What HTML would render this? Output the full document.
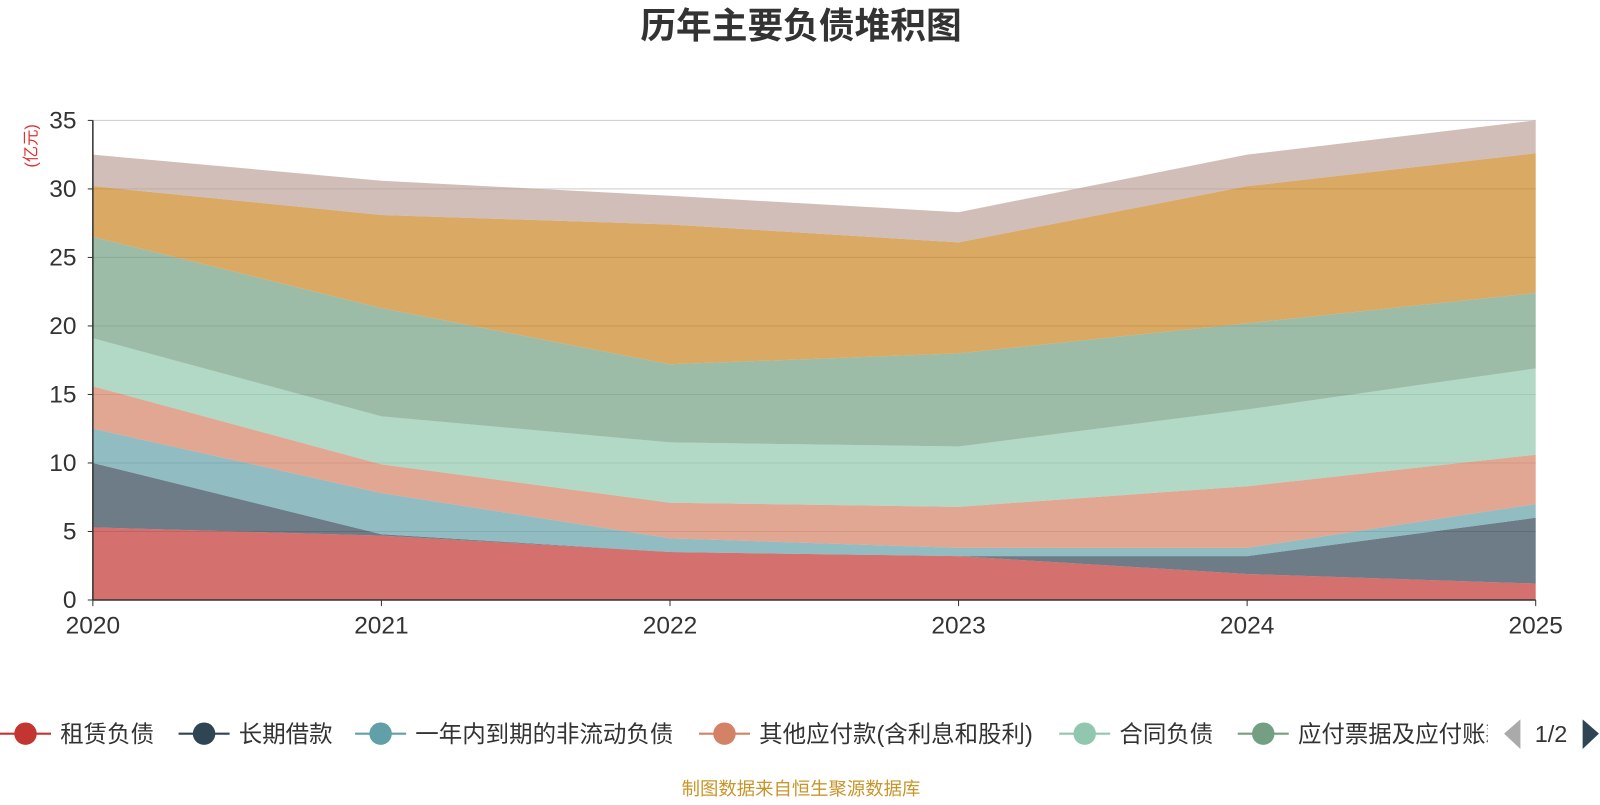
<!DOCTYPE html>
<html><head><meta charset="utf-8">
<style>
body{margin:0;background:#fff;font-family:"Liberation Sans","Noto Sans CJK SC",sans-serif;}
svg text{font-family:"Liberation Sans","Noto Sans CJK SC",sans-serif;}
</style></head>
<body>
<svg id="chart" width="1600" height="800" xmlns="http://www.w3.org/2000/svg">
<g transform="scale(1.0204)">
<text x="785" y="37" text-anchor="middle" font-size="35" font-weight="bold" fill="#333">历年主要负债堆积图</text>
<text transform="translate(36,143) rotate(-90)" text-anchor="middle" font-size="16" fill="#e03030">(亿元)</text>
<g id="grid"></g>
<g id="areas"></g>
<g id="axes"></g>
<g id="legend"></g>
<text x="785" y="779" text-anchor="middle" font-size="18" fill="#c8952a">制图数据来自恒生聚源数据库</text>
</g>
</svg>
<script>
const years = ["2020","2021","2022","2023","2024","2025"];
const leaseLiab = [5.3,4.7,3.5,3.2,1.9,1.2];
const longLoans = [4.7,0.1,0.0,0.0,1.3,4.8];
const currentNonCurrent = [2.5,3.0,1.0,0.6,0.6,1.0];
const otherPayables = [3.1,2.1,2.6,3.0,4.5,3.6];
const contractLiab = [3.5,3.5,4.4,4.4,5.6,6.3];
const notesPayable = [7.4,7.9,5.7,6.8,6.3,5.5];
const series7 = [3.7,6.8,10.2,8.1,10.0,10.2];
const series8 = [2.3,2.5,2.1,2.2,2.3,2.4];
const yTicks = [0,5,10,15,20,25,30,35];
const seriesNames = ["租赁负债","长期借款","一年内到期的非流动负债","其他应付款(含利息和股利)","合同负债","应付票据及应付账款","预收款项","其他"];
const seriesData = [leaseLiab,longLoans,currentNonCurrent,otherPayables,contractLiab,notesPayable,series7,series8];
const colors = ["#c23531","#2f4554","#61a0a8","#d48265","#91c7ae","#749f83","#ca8622","#bda29a"];
const NS="http://www.w3.org/2000/svg";
const x0=91,x1=1505,yBase=588,yTop=118,yMax=35;
const xs=i=>x0+(x1-x0)*i/(years.length-1);
const ys=v=>yBase-(yBase-yTop)*v/yMax;
function mk(tag,attrs,parent){const e=document.createElementNS(NS,tag);for(const k in attrs)e.setAttribute(k,attrs[k]);parent.appendChild(e);return e;}
const grid=document.getElementById('grid'),axes=document.getElementById('axes'),areas=document.getElementById('areas'),legend=document.getElementById('legend');
yTicks.forEach(t=>{
  if(t>0){const l=mk('line',{x1:x0,x2:x1,y1:ys(t),y2:ys(t),stroke:'#ccc','stroke-width':1},grid);
  
  }
  const tx=mk('text',{x:75,y:ys(t)+8,'text-anchor':'end','font-size':24,fill:'#333'},axes);tx.textContent=t;
  
  
  const tk=mk('line',{x1:x0-5,x2:x0,y1:ys(t),y2:ys(t),stroke:'#333'},axes);
  
  
});
let cum=years.map(()=>0);
seriesData.forEach((s,k)=>{
  const lower=cum.slice();const upper=cum.map((c,i)=>c+s[i]);cum=upper;
  let d='M'+years.map((_,i)=>xs(i)+','+ys(upper[i])).join('L');
  d+='L'+years.map((_,i)=>xs(i)+','+ys(lower[i])).reverse().join('L')+'Z';
  const p=mk('path',{d:d,fill:colors[k],'fill-opacity':0.7,stroke:'none'},areas);
  
  
});
const ax=mk('line',{x1:x0,x2:x1,y1:yBase,y2:yBase,stroke:'#333','stroke-width':1.5},axes);


const ay=mk('line',{x1:x0,x2:x0,y1:yTop,y2:yBase,stroke:'#333','stroke-width':1.5},axes);


years.forEach((y,i)=>{
  const tk=mk('line',{x1:xs(i),x2:xs(i),y1:yBase,y2:yBase+6,stroke:'#333'},axes);
  
  
  const t=mk('text',{x:xs(i),y:621,'text-anchor':'middle','font-size':24,fill:'#333'},axes);t.textContent=y;
  
  
});
const legX=[25,200,373,710,1063,1238];
for(let k=0;k<6;k++){
  const g=mk('g',{},legend);
  
  
  mk('line',{x1:legX[k]-25,x2:legX[k]+25,y1:719,y2:719,stroke:colors[k],'stroke-width':2},g);
  mk('circle',{cx:legX[k],cy:719,r:11,fill:colors[k]},g);
  const t=mk('text',{x:legX[k]+34,y:727,'font-size':23,fill:'#333'},g);t.textContent=seriesNames[k];
}
mk('rect',{x:1458,y:695,width:140,height:50,fill:'#fff'},legend);
const pl=mk('path',{d:'M1490,705 L1474,719 L1490,734 Z',fill:'#aaa'},legend);


const pt=mk('text',{x:1520,y:727,'text-anchor':'middle','font-size':23,fill:'#333'},legend);pt.textContent='1/2';


const pn=mk('path',{d:'M1551,705 L1567,719 L1551,734 Z',fill:'#2f4554'},legend);


</script>
</body></html>
